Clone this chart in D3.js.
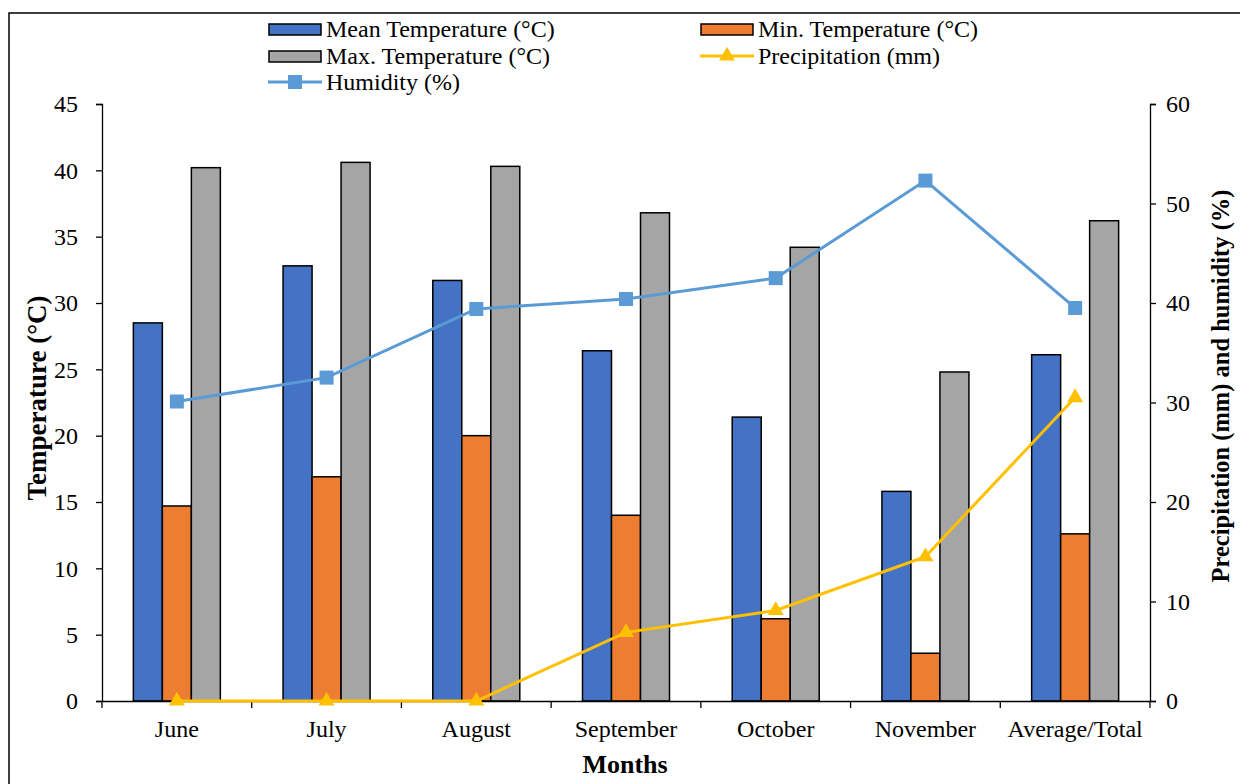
<!DOCTYPE html>
<html><head><meta charset="utf-8">
<script src="https://cdn.jsdelivr.net/npm/d3@7"></script>
<style>body{margin:0;background:#fff}svg{display:block}</style>
</head><body><svg id="c" width="1240" height="784"></svg>
<script>
const categories = ["June","July","August","September","October","November","Average/Total"];
const meanTemp = [28.5,32.8,31.7,26.4,21.4,15.8,26.1];
const minTemp = [14.7,16.9,20.0,14.0,6.2,3.6,12.6];
const maxTemp = [40.2,40.6,40.3,36.8,34.2,24.8,36.2];
const precipitation = [0,0,0,6.9,9.1,14.5,30.5];
const humidity = [30.1,32.5,39.4,40.4,42.5,52.3,39.5];
const leftTicks = [0,5,10,15,20,25,30,35,40,45];
const rightTicks = [0,10,20,30,40,50,60];

const FONT = "'Liberation Serif', 'Times New Roman', Times, serif";
const svg = d3.select("#c");
const L=102,R=1150,T=104,B=701;
svg.append("rect").attr("x",9).attr("y",13).attr("width",1240).attr("height",790).attr("fill","none").attr("stroke","#000").attr("stroke-width",1.5);

const x = d3.scaleBand().domain(categories).range([L,R]).paddingInner(0).paddingOuter(0);
const yL = d3.scaleLinear().domain([0,45]).range([B,T]);
const yR = d3.scaleLinear().domain([0,60]).range([B,T]);

const bw = 29;
const series = [
 {name:"Mean Temperature (°C)",vals:meanTemp,color:"#4472C4",off:-1.5},
 {name:"Min. Temperature (°C)",vals:minTemp,color:"#ED7D31",off:-0.5},
 {name:"Max. Temperature (°C)",vals:maxTemp,color:"#A5A5A5",off:0.5}
];
series.forEach(s=>{
  svg.append("g").selectAll("rect").data(categories).join("rect")
    .attr("x",d=>x(d)+x.bandwidth()/2+s.off*bw)
    .attr("y",(d,i)=>yL(s.vals[i]))
    .attr("width",bw).attr("height",(d,i)=>B-yL(s.vals[i]))
    .attr("fill",s.color).attr("stroke","#000").attr("stroke-width",1.5);
});

// axes
const gL = svg.append("g").attr("transform",`translate(${L},0)`).call(d3.axisLeft(yL).tickValues(leftTicks).tickSize(6).tickPadding(18));
const gR = svg.append("g").attr("transform",`translate(${R},0)`).call(d3.axisRight(yR).tickValues(rightTicks).tickSize(6).tickPadding(10));
const gX = svg.append("g").attr("transform",`translate(0,${B})`).call(d3.axisBottom(x).tickSize(0).tickPadding(19));
gX.selectAll(".tick line").remove();
svg.append("g").selectAll("line").data(d3.range(categories.length+1)).join("line")
  .attr("x1",i=>L+i*x.bandwidth()).attr("x2",i=>L+i*x.bandwidth())
  .attr("y1",B).attr("y2",B+7).attr("stroke","#000").attr("stroke-width",1.3);
[gL,gR,gX].forEach(g=>{
  g.attr("font-family",null).attr("font-size",null);
  g.selectAll("text").attr("font-family",FONT).attr("font-size","24px").attr("fill","#000");
  g.selectAll("path,line").attr("stroke","#000").attr("stroke-width",1.3);
});

// lines
const cx = d=>x(d)+x.bandwidth()/2;
const lineP = d3.line().x((d,i)=>cx(categories[i])).y(d=>yR(d));
svg.append("path").datum(precipitation).attr("d",lineP).attr("fill","none").attr("stroke","#FFC000").attr("stroke-width",3);
svg.append("path").datum(humidity).attr("d",lineP).attr("fill","none").attr("stroke","#5B9BD5").attr("stroke-width",3);
const tri = d3.symbol().type(d3.symbolTriangle).size(110);
svg.append("g").selectAll("path").data(precipitation).join("path")
  .attr("d",tri).attr("transform",(d,i)=>`translate(${cx(categories[i])},${yR(d)})`).attr("fill","#FFC000");
svg.append("g").selectAll("rect").data(humidity).join("rect")
  .attr("x",(d,i)=>cx(categories[i])-7).attr("y",d=>yR(d)-7).attr("width",14).attr("height",14).attr("fill","#5B9BD5");

// titles
const title = (t,sz)=>t.attr("font-family",FONT).attr("font-size",sz).attr("font-weight","bold").attr("text-anchor","middle").attr("fill","#000");
svg.append("text").attr("transform","translate(46,398) rotate(-90)").call(title,"27px").text("Temperature (°C)");
svg.append("text").attr("transform","translate(1229,386) rotate(-90)").call(title,"24.5px").text("Precipitation (mm) and humidity (%)");
svg.append("text").attr("x",625).attr("y",773).call(title,"26px").text("Months");

// legend
const leg = [
 {name:series[0].name,type:"bar",color:series[0].color,x:268,y:29},
 {name:series[1].name,type:"bar",color:series[1].color,x:700,y:29},
 {name:series[2].name,type:"bar",color:series[2].color,x:268,y:56},
 {name:"Precipitation (mm)",type:"tri",color:"#FFC000",x:700,y:56},
 {name:"Humidity (%)",type:"sq",color:"#5B9BD5",x:268,y:82}
];
const lg = svg.append("g");
leg.forEach(l=>{
  if(l.type==="bar"){
    lg.append("rect").attr("x",l.x+1).attr("y",l.y-5).attr("width",52).attr("height",11).attr("fill",l.color).attr("stroke","#000").attr("stroke-width",1.5);
  } else {
    lg.append("line").attr("x1",l.x).attr("x2",l.x+54).attr("y1",l.y).attr("y2",l.y).attr("stroke",l.color).attr("stroke-width",3);
    if(l.type==="tri") lg.append("path").attr("d",tri).attr("transform",`translate(${l.x+27},${l.y})`).attr("fill",l.color);
    else lg.append("rect").attr("x",l.x+20).attr("y",l.y-7).attr("width",14).attr("height",14).attr("fill",l.color);
  }
  lg.append("text").attr("x",l.x+58).attr("y",l.y+8).attr("font-family",FONT).attr("font-size","24px").attr("fill","#000").text(l.name);
});
</script></body></html>
